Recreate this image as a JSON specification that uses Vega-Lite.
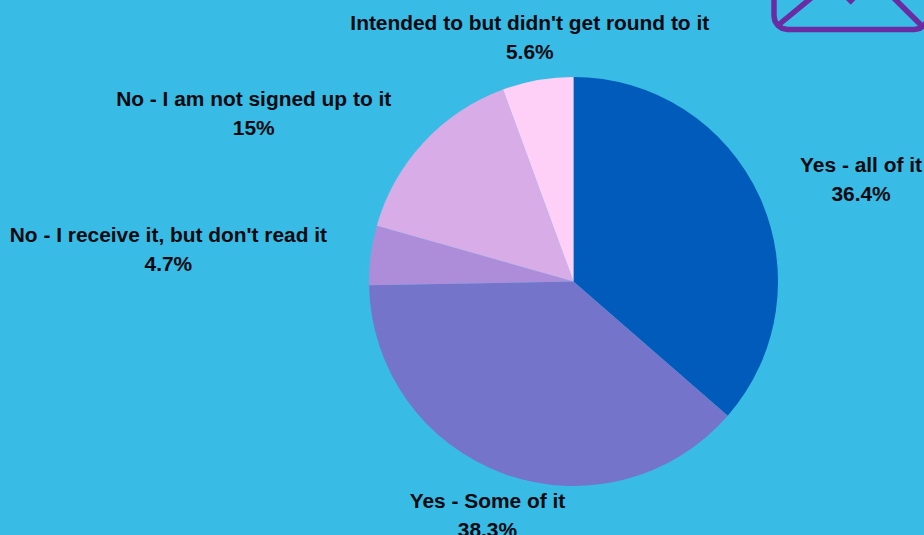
{
  "$schema": "https://vega.github.io/schema/vega-lite/v6.json",
  "autosize": "none",
  "width": 701,
  "height": 563,
  "padding": {"left": 223, "top": 0, "right": 0, "bottom": -28},
  "background": "#38bce6",
  "view": {"stroke": null},
  "data": {
    "values": [
      {"answer": "Yes - all of it", "share": 36.4, "rank": 1},
      {"answer": "Yes - Some of it", "share": 38.3, "rank": 2},
      {"answer": "No - I receive it, but don't read it", "share": 4.7, "rank": 3},
      {"answer": "No - I am not signed up to it", "share": 15, "rank": 4},
      {"answer": "Intended to but didn't get round to it", "share": 5.6, "rank": 5}
    ]
  },
  "transform": [
    {"stack": "share", "sort": [{"field": "rank", "order": "ascending"}], "as": ["from", "to"]},
    {"calculate": "(datum.from + datum.to) / 2", "as": "mid"},
    {"calculate": "datum.answer + '\\n' + datum.share + '%'", "as": "caption"}
  ],
  "config": {
    "text": {"font": "Liberation Sans", "fontSize": 20.9, "fontWeight": "bold", "color": "#040a10", "lineHeight": 29, "lineBreak": "\n", "align": "center", "baseline": "middle"}
  },
  "layer": [
    {
      "mark": {"type": "arc", "outerRadius": 204.5},
      "encoding": {
        "theta": {"field": "from", "type": "quantitative", "scale": {"domain": [0, 100]}},
        "theta2": {"field": "to"},
        "color": {
          "field": "answer",
          "type": "nominal",
          "legend": null,
          "scale": {
            "domain": ["Yes - all of it", "Yes - Some of it", "No - I receive it, but don't read it", "No - I am not signed up to it", "Intended to but didn't get round to it"],
            "range": ["#005bbb", "#7474ca", "#ad8dd9", "#d8ace6", "#ffd0f7"]
          }
        }
      }
    },
    {
      "transform": [{"filter": "datum.rank === 1"}],
      "mark": {"type": "text", "radius": 300, "dx": 14.5, "dy": 8.5},
      "encoding": {"theta": {"field": "mid", "type": "quantitative"}, "text": {"field": "caption"}}
    },
    {
      "transform": [{"filter": "datum.rank === 2"}],
      "mark": {"type": "text", "radius": 249, "dx": -1, "dy": -13.5},
      "encoding": {"theta": {"field": "mid", "type": "quantitative"}, "text": {"field": "caption"}}
    },
    {
      "transform": [{"filter": "datum.rank === 3"}],
      "mark": {"type": "text", "radius": 408, "dx": -0.5, "dy": 6.5},
      "encoding": {"theta": {"field": "mid", "type": "quantitative"}, "text": {"field": "caption"}}
    },
    {
      "transform": [{"filter": "datum.rank === 4"}],
      "mark": {"type": "text", "radius": 340, "dx": -70.5, "dy": 49.5},
      "encoding": {"theta": {"field": "mid", "type": "quantitative"}, "text": {"field": "caption"}}
    },
    {
      "transform": [{"filter": "datum.rank === 5"}],
      "mark": {"type": "text", "radius": 247, "dx": -0.5, "dy": -14.5},
      "encoding": {"theta": {"field": "mid", "type": "quantitative"}, "text": {"field": "caption"}}
    },
    {
      "data": {
        "values": [
          {"part": "outline", "pt": 1, "ex": 551, "ey": -6},
          {"part": "outline", "pt": 2, "ex": 551, "ey": 16},
          {"part": "outline", "pt": 3, "ex": 552, "ey": 21.2},
          {"part": "outline", "pt": 4, "ex": 555, "ey": 25.5},
          {"part": "outline", "pt": 5, "ex": 559.3, "ey": 28.5},
          {"part": "outline", "pt": 6, "ex": 564.5, "ey": 29.5},
          {"part": "outline", "pt": 7, "ex": 691.5, "ey": 29.5},
          {"part": "outline", "pt": 8, "ex": 696.7, "ey": 28.5},
          {"part": "outline", "pt": 9, "ex": 701, "ey": 25.5},
          {"part": "outline", "pt": 10, "ex": 704, "ey": 21.2},
          {"part": "outline", "pt": 11, "ex": 705, "ey": 16},
          {"part": "outline", "pt": 12, "ex": 705, "ey": -6},
          {"part": "flap-left", "pt": 1, "ex": 556, "ey": 24.5},
          {"part": "flap-left", "pt": 2, "ex": 593, "ey": -6},
          {"part": "flap-right", "pt": 1, "ex": 698, "ey": 25},
          {"part": "flap-right", "pt": 2, "ex": 666.7, "ey": -6},
          {"part": "seal", "pt": 1, "ex": 622, "ey": -5},
          {"part": "seal", "pt": 2, "ex": 627.7, "ey": 0.8},
          {"part": "seal", "pt": 3, "ex": 633.4, "ey": -5}
        ]
      },
      "transform": [],
      "mark": {"type": "line", "stroke": "#6a2ba3", "strokeWidth": 5.5, "strokeJoin": "miter", "interpolate": "linear"},
      "encoding": {
        "x": {"field": "ex", "type": "quantitative", "axis": null, "scale": {"domain": [0, 701], "nice": false, "zero": false}},
        "y": {"field": "ey", "type": "quantitative", "axis": null, "scale": {"domain": [0, 563], "nice": false, "zero": false, "reverse": true}},
        "detail": {"field": "part"},
        "order": {"field": "pt"}
      }
    }
  ]
}
